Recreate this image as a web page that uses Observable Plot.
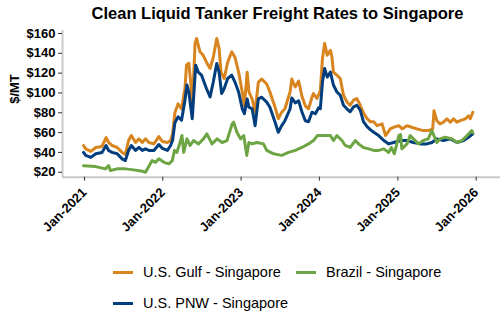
<!DOCTYPE html>
<html>
<head>
<meta charset="utf-8">
<script src="https://cdn.jsdelivr.net/npm/d3@7"></script>
<script src="https://cdn.jsdelivr.net/npm/@observablehq/plot@0.6"></script>
<style>
  body { margin: 0; width: 500px; height: 330px; position: relative; background: #fff; font-family: "Liberation Sans", Arial, sans-serif; overflow: hidden; }
  #title { position: absolute; top: 4px; left: 55px; width: 445px; text-align: center; font-size: 16.5px; font-weight: bold; line-height: 19px; color: #000; }
  #chart { position: absolute; top: 0; left: 0; }
  #chart svg text { font-family: "Liberation Sans", Arial, sans-serif; }
  .lg { position: absolute; font-size: 14.5px; line-height: 16px; color: #000; white-space: nowrap; }
  .sw { position: absolute; width: 20px; height: 3px; }
</style>
</head>
<body>
<div id="title"></div>
<div id="chart"></div>
<div id="legend"></div>
<script>
const title = "Clean Liquid Tanker Freight Rates to Singapore";
const yLabel = "$/MT";
const seriesNames = ["U.S. Gulf - Singapore", "Brazil - Singapore", "U.S. PNW - Singapore"];
const seriesColors = ["#D8841F", "#6DA544", "#023E7D"];
const yTicks = [20, 40, 60, 80, 100, 120, 140, 160];
const xTickDates = ["2021-01-01", "2022-01-01", "2023-01-01", "2024-01-01", "2025-01-01", "2026-01-01"];

const gulfDates = ["2021-01-01","2021-01-11","2021-02-04","2021-02-27","2021-03-28","2021-04-16","2021-04-28","2021-05-14","2021-06-07","2021-06-30","2021-07-15","2021-07-30","2021-08-12","2021-09-01","2021-09-16","2021-10-02","2021-10-17","2021-11-02","2021-11-25","2021-12-18","2022-01-04","2022-01-27","2022-02-11","2022-02-20","2022-03-03","2022-03-18","2022-04-03","2022-04-19","2022-04-26","2022-05-07","2022-05-17","2022-05-23","2022-06-05","2022-06-12","2022-06-28","2022-07-13","2022-07-28","2022-08-14","2022-08-29","2022-09-14","2022-09-25","2022-10-04","2022-10-19","2022-11-04","2022-11-23","2022-12-08","2022-12-25","2023-01-11","2023-01-21","2023-02-03","2023-02-11","2023-02-26","2023-03-12","2023-03-27","2023-04-12","2023-05-05","2023-05-20","2023-06-13","2023-06-28","2023-07-14","2023-07-29","2023-08-22","2023-08-30","2023-09-15","2023-10-01","2023-10-16","2023-11-01","2023-11-16","2023-12-02","2023-12-09","2023-12-25","2024-01-10","2024-01-20","2024-01-30","2024-02-11","2024-02-26","2024-03-04","2024-03-11","2024-03-27","2024-04-12","2024-04-27","2024-05-13","2024-05-28","2024-06-13","2024-06-28","2024-07-14","2024-07-29","2024-08-15","2024-08-30","2024-09-15","2024-10-01","2024-10-24","2024-11-09","2024-12-02","2024-12-25","2025-01-10","2025-01-26","2025-02-17","2025-03-11","2025-04-04","2025-05-04","2025-05-27","2025-06-17","2025-06-23","2025-07-06","2025-07-21","2025-08-06","2025-08-22","2025-09-07","2025-09-22","2025-10-08","2025-10-23","2025-11-16","2025-12-01","2025-12-09","2025-12-21"];
const gulfValues = [47,43.6,41,45,46,55,50,47,45,40,38,52,57,50,53.7,50,53.7,50,48.6,56,51,50,52,58,80,89,84,104.5,128,130,108,84,150,155,141.5,138,131,124.7,136,155,145,121,114.6,131,141.5,136,121,101,87,121,101,94,80.6,111,114,109,101,85.6,74,80.6,84,101,114,106,112,97,87,84,95.7,99.4,94.4,102,134.8,150,138,143,136.5,121,118,114.6,97.7,91,87.6,92.7,94.4,87.6,80,74,71,71,67,68.8,57,64,66,67,63.8,67,65.4,63.8,62,62,63.8,82,72,68.8,70.5,73.8,70.5,73.8,70.5,72,73.8,77,74,80.6];

const pnwDates = ["2021-01-01","2021-01-11","2021-02-04","2021-02-27","2021-03-28","2021-04-16","2021-04-28","2021-05-14","2021-06-07","2021-06-30","2021-07-15","2021-07-30","2021-08-12","2021-09-01","2021-09-16","2021-10-02","2021-10-17","2021-11-02","2021-11-25","2021-12-18","2022-01-04","2022-01-27","2022-02-11","2022-02-20","2022-03-03","2022-03-18","2022-04-03","2022-04-19","2022-04-28","2022-05-07","2022-05-23","2022-06-08","2022-06-20","2022-07-05","2022-07-28","2022-08-14","2022-08-29","2022-09-14","2022-09-25","2022-10-07","2022-10-19","2022-11-04","2022-11-23","2022-12-08","2022-12-25","2023-01-11","2023-01-21","2023-02-03","2023-02-11","2023-02-26","2023-03-12","2023-03-27","2023-04-12","2023-05-05","2023-05-20","2023-06-13","2023-06-28","2023-07-14","2023-07-29","2023-08-22","2023-08-30","2023-09-15","2023-10-01","2023-10-16","2023-11-01","2023-11-16","2023-12-02","2023-12-18","2024-01-02","2024-01-10","2024-01-20","2024-01-30","2024-02-11","2024-02-26","2024-03-11","2024-03-27","2024-04-12","2024-04-27","2024-05-13","2024-05-28","2024-06-13","2024-06-28","2024-07-14","2024-07-29","2024-08-15","2024-08-30","2024-09-15","2024-10-08","2024-11-01","2024-11-24","2024-12-17","2025-01-18","2025-02-17","2025-03-19","2025-04-19","2025-05-20","2025-06-13","2025-07-06","2025-08-06","2025-09-07","2025-10-08","2025-11-08","2025-12-01","2025-12-21"];
const pnwValues = [40,37,35,38.6,40,47,42,40,38.6,33.5,31.8,42,47,42,45,42,43.6,42,42,48,44,42,47,52,70,76,72.5,92.7,108,101,74,128,121,118,104.5,96,111,129.7,121,99.4,104.5,114.6,118,111,101,84,79,94,85.6,84,67,94,95.7,90.7,85.6,70.5,60.4,67,72,84,95,90,92,81,72,71,80.6,79,85,84,111,124.7,116,121,108,101,97.7,87.6,84,81,86,87.6,82.6,71,66,63,60.4,57,52,48.6,50,52,52,50,48.6,48.6,50,53.7,52,53.7,50,52,55.3,58.7];

const brazilDates = ["2021-01-01","2021-02-27","2021-04-13","2021-04-28","2021-05-06","2021-06-07","2021-07-15","2021-08-23","2021-10-02","2021-10-17","2021-11-17","2021-12-03","2021-12-18","2022-01-11","2022-02-03","2022-02-19","2022-03-01","2022-03-12","2022-03-27","2022-04-05","2022-04-13","2022-04-28","2022-05-13","2022-05-29","2022-06-21","2022-07-14","2022-07-30","2022-08-23","2022-09-16","2022-10-09","2022-11-01","2022-11-25","2022-12-02","2022-12-17","2023-01-03","2023-01-18","2023-02-01","2023-02-11","2023-02-26","2023-03-20","2023-04-20","2023-05-05","2023-06-06","2023-07-14","2023-08-15","2023-09-15","2023-10-16","2023-11-16","2023-12-09","2023-12-28","2024-02-11","2024-02-26","2024-03-11","2024-03-27","2024-04-20","2024-05-05","2024-05-28","2024-06-21","2024-07-06","2024-07-29","2024-08-22","2024-09-15","2024-10-08","2024-11-01","2024-11-24","2024-12-06","2024-12-20","2025-01-10","2025-01-18","2025-01-24","2025-02-17","2025-03-04","2025-03-19","2025-04-12","2025-05-04","2025-05-27","2025-06-13","2025-07-06","2025-07-21","2025-08-14","2025-09-15","2025-10-08","2025-10-31","2025-11-24","2025-12-16","2025-12-21"];
const brazilValues = [26.5,25.7,23.4,26.8,21.7,23.4,23.4,22.4,21,20,31.8,30,33.5,30,28.5,31.8,42,40,50,57,40,53.7,47,52,48.6,53.7,58.7,48.6,53.7,50,52,68.8,70.5,60.4,53.7,57,37,50,48.6,50,48.6,42,38.6,37,40,42,45,48.6,52,57,57,57,52,57,52,47,45,52,48.6,45,43.6,42,42,43.6,40,45,38.6,57,58,43.6,48.6,57,53.7,48.6,52,53.7,62,50,53.7,55.3,53.7,50,52,57,62,60];

const parse = d3.utcParse("%Y-%m-%d");
const toRows = (dates, values, name) => dates.map((d, i) => ({date: parse(d), value: values[i], series: name}));
const gulf = toRows(gulfDates, gulfValues, seriesNames[0]);
const brazil = toRows(brazilDates, brazilValues, seriesNames[1]);
const pnw = toRows(pnwDates, pnwValues, seriesNames[2]);

const xDomain = [parse("2020-09-25"), parse("2026-04-29")];
const axisGrey = "#c8c8c8";

const chart = Plot.plot({
  width: 500,
  height: 260,
  marginLeft: 62,
  marginRight: 0,
  marginTop: 30,
  marginBottom: 83.3,
  style: {fontFamily: "'Liberation Sans', Arial, sans-serif", background: "transparent"},
  x: {type: "utc", domain: xDomain},
  y: {domain: [15, 163]},
  marks: [
    Plot.ruleX([xDomain[0]], {stroke: axisGrey, strokeWidth: 2}),
    Plot.ruleY([15], {stroke: axisGrey, strokeWidth: 2}),
    Plot.axisY({ticks: yTicks, tickFormat: d => "$" + d, tickSize: 4, tickPadding: 3, fontSize: 13, fontWeight: "bold", label: null, stroke: "#333"}),
    Plot.axisX({ticks: xTickDates.map(parse), tickFormat: d3.utcFormat("Jan-%Y"), tickSize: 4, tickPadding: 9, dx: 1, tickRotate: -45, fontSize: 13, fontWeight: "bold", label: null, stroke: "#333"}),
    Plot.line(gulf, {x: "date", y: "value", stroke: seriesColors[0], strokeWidth: 3, strokeLinejoin: "round"}),
    Plot.line(pnw, {x: "date", y: "value", stroke: seriesColors[2], strokeWidth: 3, strokeLinejoin: "round"}),
    Plot.line(brazil, {x: "date", y: "value", stroke: seriesColors[1], strokeWidth: 3, strokeLinejoin: "round"}),
    Plot.text([yLabel], {frameAnchor: "left", dx: -48, rotate: -90, text: d => d, fontSize: 13, fontWeight: "bold", fill: "#000"})
  ]
});
document.getElementById("chart").appendChild(chart);
document.getElementById("title").textContent = title;

const legendItems = [
  {name: seriesNames[0], color: seriesColors[0], left: 113, cy: 272},
  {name: seriesNames[1], color: seriesColors[1], left: 296, cy: 272},
  {name: seriesNames[2], color: seriesColors[2], left: 113, cy: 303}
];
const lg = document.getElementById("legend");
for (const it of legendItems) {
  const sw = document.createElement("div");
  sw.className = "sw";
  sw.style.left = it.left + "px";
  sw.style.top = (it.cy - 1.5) + "px";
  sw.style.background = it.color;
  lg.appendChild(sw);
  const t = document.createElement("div");
  t.className = "lg";
  t.style.left = (it.left + 30) + "px";
  t.style.top = (it.cy - 8) + "px";
  t.textContent = it.name;
  lg.appendChild(t);
}
</script>
</body>
</html>
